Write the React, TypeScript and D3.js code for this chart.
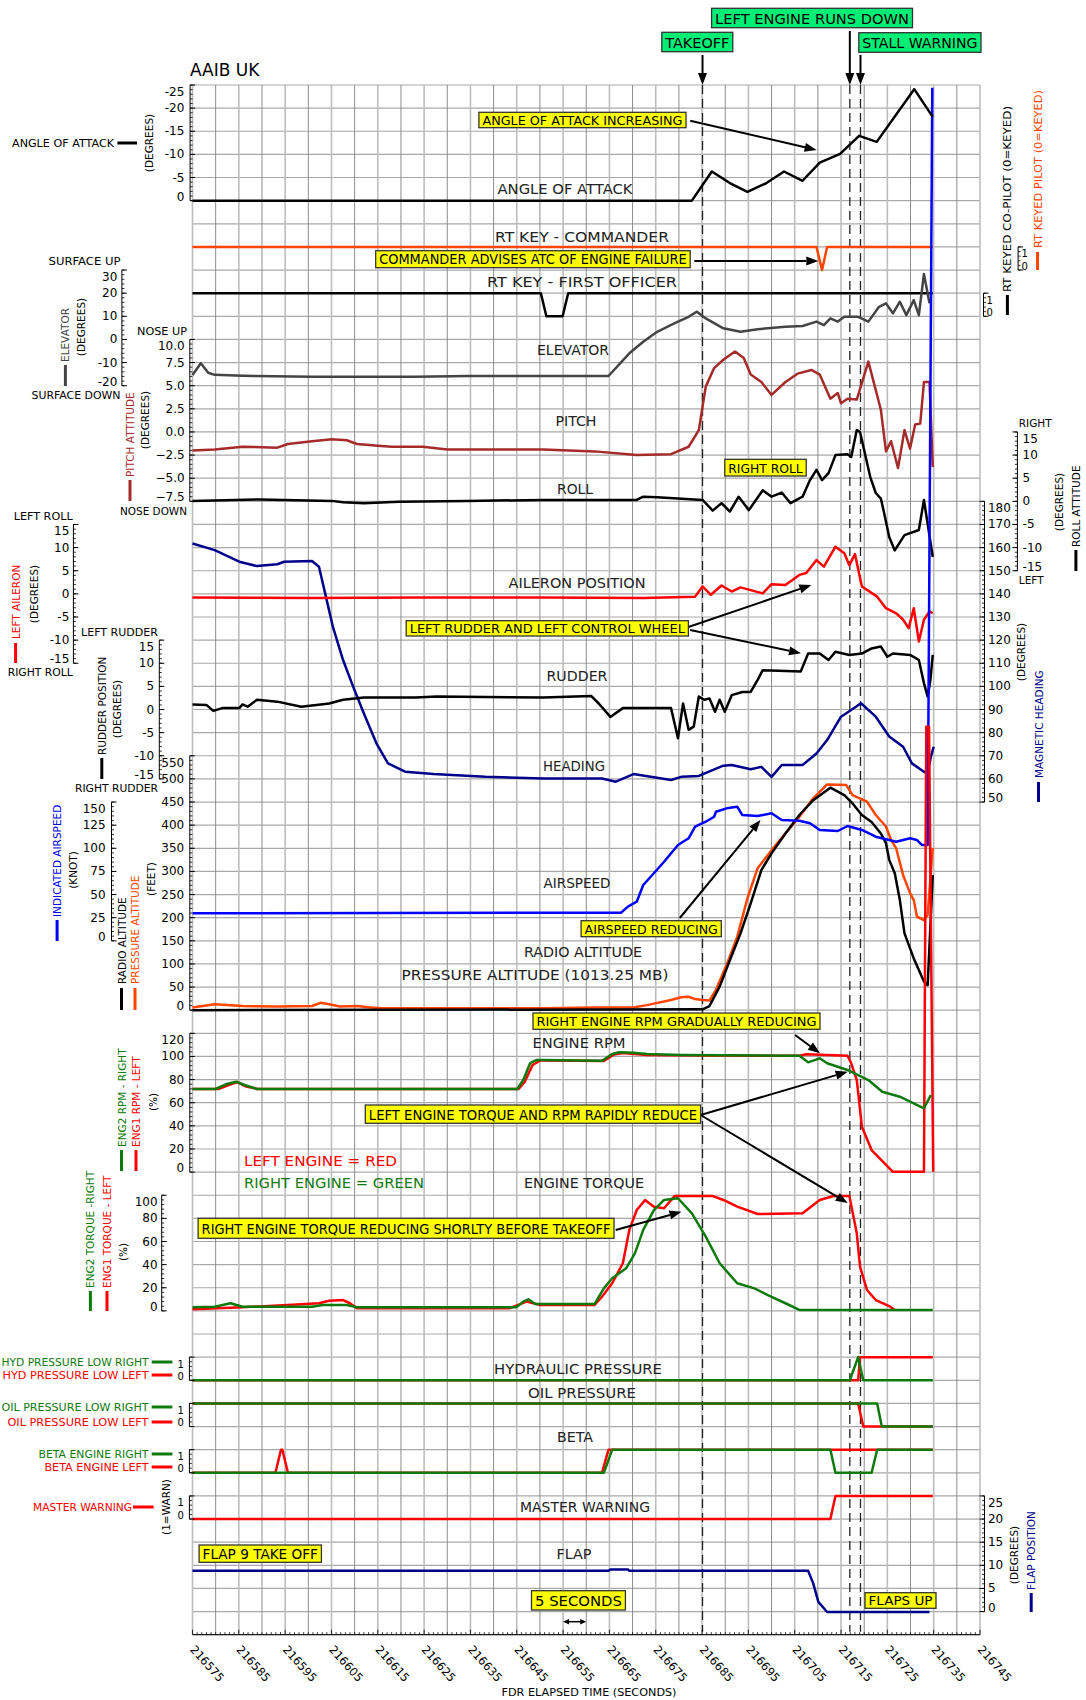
import * as d3 from "d3";

type Pt = [number, number];

// FDR elapsed time (s) tick labels
const timeTicks = [216575, 216585, 216595, 216605, 216615, 216625, 216635, 216645, 216655, 216665, 216675, 216685, 216695, 216705, 216715, 216725, 216735, 216745];

const eventTimes = { takeoff: 216685.1, leftEngineRunsDown: 216716.9, stallWarning: 216719.2 };
const fiveSeconds = [216655, 216660];

// axis tick labels
const aoaTicks = [-25, -20, -15, -10, -5, 0];
const elevatorTicks = [30, 20, 10, 0, -10, -20];
const pitchTicks = [10, 7.5, 5, 2.5, 0, -2.5, -5, -7.5];
const rollTicks = [15, 10, 5, 0, -5, -10, -15];
const headingTicks = [180, 170, 160, 150, 140, 130, 120, 110, 100, 90, 80, 70, 60, 50];
const aileronTicks = [15, 10, 5, 0, -5, -10, -15];
const rudderTicks = [15, 10, 5, 0, -5, -10, -15];
const airspeedTicks = [150, 125, 100, 75, 50, 25, 0];
const altitudeTicks = [550, 500, 450, 400, 350, 300, 250, 200, 150, 100, 50, 0];
const rpmTicks = [120, 100, 80, 60, 40, 20, 0];
const torqueTicks = [100, 80, 60, 40, 20, 0];
const discreteTicks = [1, 0];
const flapTicks = [25, 20, 15, 10, 5, 0];

// series: [time, value]
const aoa: Pt[] = [[216575, 0], [216682.8, 0], [216687.1, -6.3], [216691.0, -3.8], [216694.8, -1.9], [216698.9, -3.8], [216702.7, -6.3], [216706.7, -4.3], [216710.4, -8.2], [216714.8, -10.1], [216718.9, -14.0], [216722.7, -12.7], [216730.8, -24.1], [216734.8, -18.1]];

const rtKeyCommander: Pt[] = [[216575, 1], [216709.7, 1], [216710.9, 0], [216712.0, 1], [216734.8, 1]];
const rtKeyFirstOfficer: Pt[] = [[216575, 1], [216650.2, 1], [216651.4, 0], [216654.9, 0], [216656.1, 1], [216734.8, 1]];

const elevator: Pt[] = [[216575, -15.4], [216576.8, -10.3], [216578.4, -14.4], [216579.8, -15.3], [216585.8, -15.7], [216600.8, -16.1], [216623.2, -16.1], [216634.4, -15.8], [216650.6, -15.8], [216664.8, -15.8], [216669.3, -6.0], [216672.3, -1.0], [216675.3, 3.3], [216679.1, 7.0], [216682.1, 9.8], [216683.9, 12.0], [216685.8, 9.1], [216689.6, 4.8], [216693.3, 3.3], [216697.0, 4.4], [216703.0, 5.5], [216706.7, 5.8], [216709.7, 7.7], [216711.3, 6.2], [216712.7, 9.1], [216714.3, 7.7], [216715.7, 9.8], [216718.7, 9.8], [216720.9, 7.7], [216723.2, 14.1], [216724.7, 15.6], [216726.2, 11.3], [216727.7, 16.3], [216729.1, 10.5], [216730.7, 17.0], [216731.8, 10.5], [216732.9, 28.3], [216734.1, 15.6]];

const pitch: Pt[] = [[216575, -2.0], [216579.8, -1.9], [216585.8, -1.6], [216593.3, -1.7], [216595.6, -1.3], [216600.8, -1.0], [216605.1, -0.8], [216608.3, -0.9], [216610.5, -1.3], [216615.0, -1.5], [216618.0, -1.6], [216624.7, -1.6], [216630.0, -1.9], [216638.2, -1.9], [216650.7, -1.9], [216661.8, -2.1], [216670.9, -2.5], [216678.3, -2.4], [216682.1, -1.6], [216684.3, 0.2], [216685.8, 4.9], [216687.6, 6.9], [216689.6, 7.8], [216692.1, 8.7], [216694.0, 8.0], [216695.5, 6.2], [216697.8, 5.4], [216700.0, 4.0], [216703.0, 5.4], [216705.6, 6.3], [216708.6, 6.7], [216710.4, 6.2], [216712.7, 3.6], [216714.3, 4.2], [216715.0, 3.1], [216716.4, 3.6], [216718.4, 3.5], [216720.9, 7.6], [216723.6, 2.4], [216724.7, -2.1], [216725.8, -1.0], [216727.3, -3.9], [216728.7, 0.2], [216729.9, -1.8], [216731.0, 0.8], [216732.1, 0.9], [216732.9, 5.4], [216734.1, 5.4], [216734.8, -3.8]];

const roll: Pt[] = [[216575, 0.1], [216589.6, 0.4], [216605.1, 0.1], [216607.5, -0.2], [216612.0, -0.4], [216619.5, -0.1], [216634.4, 0.1], [216650.6, 0.3], [216670.9, 0.3], [216672.3, 1.0], [216675.3, 0.9], [216685.1, 0.3], [216687.3, -2.0], [216689.2, -0.4], [216691.0, -2.2], [216692.9, 1.0], [216695.1, -1.9], [216698.1, 2.4], [216700.0, 1.0], [216702.2, 1.9], [216704.1, -0.4], [216706.7, 1.0], [216708.3, 4.6], [216709.7, 6.8], [216710.9, 4.6], [216712.3, 6.1], [216713.8, 10.0], [216716.4, 10.2], [216717.2, 9.6], [216718.4, 15.4], [216719.1, 15.0], [216721.3, 5.3], [216722.5, 1.8], [216723.6, 0.6], [216724.3, -2.5], [216725.4, -7.7], [216726.6, -10.6], [216728.7, -7.3], [216731.8, -6.2], [216732.9, 0.3], [216734.8, -12.0]];

const heading: Pt[] = [[216575, 161.8], [216579.8, 158.9], [216585.1, 153.9], [216588.9, 152.0], [216593.3, 152.8], [216594.8, 153.9], [216600.8, 154.2], [216602.3, 151.7], [216603.8, 138.8], [216605.3, 125.8], [216607.5, 111.4], [216609.7, 99.8], [216612.0, 88.3], [216614.7, 75.4], [216617.2, 66.7], [216620.9, 63.1], [216627.0, 62.1], [216638.2, 60.9], [216650.7, 60.2], [216663.4, 60.2], [216666.4, 58.8], [216670.2, 62.1], [216678.3, 59.5], [216680.5, 60.9], [216684.3, 61.3], [216689.6, 65.7], [216691.4, 66.0], [216695.5, 64.2], [216697.8, 65.2], [216700.0, 60.9], [216702.2, 66.0], [216706.7, 66.0], [216709.7, 71.0], [216712.0, 76.8], [216715.0, 86.9], [216717.2, 89.8], [216719.3, 92.7], [216722.5, 86.9], [216725.4, 78.3], [216728.4, 73.9], [216730.3, 66.7], [216732.9, 63.1], [216733.7, 62.4], [216734.4, 69.6], [216735.0, 73.9]];

const aileron: Pt[] = [[216575, -0.8], [216600.8, -0.9], [216623.2, -0.8], [216650.6, -0.8], [216672.4, -0.9], [216683.5, -0.6], [216685.1, 1.6], [216686.9, -0.2], [216689.2, 1.8], [216691.4, 0.5], [216693.3, 1.4], [216698.1, 0.1], [216700.0, 2.1], [216703.0, 1.9], [216706.0, 4.1], [216707.5, 4.5], [216709.7, 7.3], [216711.3, 5.9], [216713.8, 10.2], [216715.7, 8.8], [216716.8, 6.2], [216718.0, 8.6], [216719.5, 1.6], [216722.8, -0.6], [216724.7, -3.1], [216726.9, -4.2], [216728.4, -5.6], [216729.6, -7.4], [216730.7, -3.1], [216731.8, -10.3], [216732.9, -5.6], [216734.1, -3.8], [216734.8, -4.2]];

const rudder: Pt[] = [[216575, 1.1], [216578.0, 1.0], [216579.5, -0.3], [216581.4, 0.3], [216585.1, 0.3], [216585.8, 1.1], [216586.9, 0.6], [216588.9, 2.1], [216593.3, 1.7], [216598.5, 0.6], [216604.5, 1.3], [216607.5, 2.1], [216612.0, 2.6], [216623.2, 2.6], [216627.7, 2.8], [216650.7, 2.6], [216661.1, 2.9], [216662.7, 1.3], [216665.2, -1.6], [216667.9, 0.3], [216678.3, 0.3], [216679.8, -6.2], [216680.9, 1.3], [216682.1, -4.4], [216683.2, -3.7], [216684.3, 2.8], [216685.5, 2.1], [216686.6, 2.4], [216687.8, -0.5], [216688.8, 2.1], [216689.9, -0.5], [216691.4, 3.1], [216693.7, 3.8], [216695.5, 3.8], [216697.0, 6.4], [216698.1, 8.5], [216701.5, 8.4], [216706.3, 8.2], [216707.9, 12.1], [216710.4, 12.1], [216712.3, 10.7], [216713.8, 12.5], [216716.8, 11.8], [216719.5, 12.1], [216721.6, 13.2], [216723.6, 13.6], [216725.0, 11.4], [216726.2, 12.1], [216729.9, 11.8], [216731.8, 10.7], [216732.9, 5.7], [216733.7, 2.8], [216734.3, 6.4], [216734.8, 11.8]];

const airspeed: Pt[] = [[216575, 29.7], [216667.5, 30.4], [216669.0, 36.9], [216670.9, 42.3], [216672.3, 60.3], [216674.6, 73.0], [216676.8, 85.5], [216679.8, 103.5], [216682.1, 110.8], [216683.5, 123.3], [216685.8, 128.7], [216687.6, 134.1], [216688.0, 139.5], [216690.3, 143.2], [216692.6, 144.9], [216693.7, 135.9], [216697.0, 134.9], [216700.0, 137.8], [216702.2, 130.6], [216706.0, 129.8], [216708.3, 127.0], [216710.4, 119.8], [216714.3, 118.7], [216716.4, 124.1], [216719.5, 119.8], [216722.5, 112.5], [216724.7, 109.7], [216726.9, 107.1], [216729.9, 110.8], [216731.4, 108.9], [216732.5, 103.5], [216733.7, 103.5], [216734.7, 922]];

const radioAltitude: Pt[] = [[216575, 0], [216685.1, 2], [216686.6, 9], [216688.8, 51], [216691.0, 108], [216693.3, 166], [216695.5, 231], [216697.8, 303], [216700.0, 339], [216703.0, 382], [216706.0, 422], [216709.0, 454], [216712.7, 481], [216715.7, 465], [216717.5, 447], [216719.5, 422], [216721.6, 407], [216723.6, 382], [216724.7, 361], [216725.4, 325], [216726.6, 296], [216727.7, 238], [216728.7, 166], [216730.7, 112], [216732.9, 62], [216733.7, 54], [216734.8, 292]];

const pressureAltitude: Pt[] = [[216575, 6], [216579.8, 13], [216585.8, 9], [216593.3, 8], [216600.8, 9], [216602.6, 16], [216604.5, 13], [216606.8, 8], [216610.5, 9], [216613.5, 6], [216615.8, 4], [216650.7, 4], [216661.8, 6], [216670.2, 6], [216673.1, 11], [216678.3, 22], [216680.5, 28], [216682.1, 29], [216683.5, 24], [216685.1, 22], [216686.6, 21], [216688.0, 44], [216690.3, 98], [216692.6, 159], [216694.8, 242], [216697.0, 307], [216700.0, 346], [216703.0, 382], [216706.0, 418], [216709.0, 458], [216712.0, 488], [216716.1, 487], [216717.5, 465], [216720.6, 451], [216722.5, 422], [216724.7, 397], [216725.8, 368], [216726.9, 350], [216728.4, 292], [216729.9, 253], [216730.7, 238], [216731.4, 202], [216732.9, 195], [216733.7, 206], [216734.8, 351]];

const rpmRight: Pt[] = [[216575, 71.9], [216580.0, 71.9], [216582.4, 76.2], [216584.4, 78.2], [216586.2, 75.3], [216588.9, 71.9], [216645.1, 71.9], [216646.4, 79.6], [216647.9, 94.3], [216649.2, 96.9], [216650.6, 96.9], [216663.4, 96.3], [216665.6, 102.1], [216667.1, 103.6], [216670.2, 103.2], [216673.1, 102.1], [216680.5, 101.3], [216706.0, 100.6], [216707.9, 94.9], [216710.4, 98.4], [216712.0, 94.1], [216716.4, 88.3], [216720.9, 79.6], [216723.9, 69.5], [216727.7, 65.2], [216732.9, 55.2], [216734.4, 66.7]];

const rpmLeft: Pt[] = [[216575, 71.9], [216580.7, 71.9], [216582.8, 75.3], [216584.7, 77.9], [216586.6, 74.0], [216589.1, 71.9], [216645.4, 71.9], [216646.7, 77.9], [216648.4, 92.6], [216650.1, 96.5], [216650.6, 96.5], [216663.8, 96.1], [216666.0, 101.7], [216667.9, 103.0], [216673.1, 101.3], [216685.9, 100.8], [216706.0, 100.6], [216707.5, 101.9], [216716.4, 100.6], [216717.2, 94.1], [216718.4, 79.6], [216719.5, 39.3], [216721.6, 19.1], [216726.2, 0.3], [216732.9, 0.3], [216733.4, 385], [216734.0, 385], [216734.9, 0.3]];

const torqueRight: Pt[] = [[216575, 3.1], [216579.8, 3.6], [216583.2, 6.6], [216585.8, 3.6], [216600.8, 3.6], [216603.1, 5.1], [216608.3, 5.1], [216610.5, 3.1], [216644.9, 3.1], [216646.4, 8.0], [216647.5, 10.0], [216649.0, 6.0], [216650.6, 6.0], [216661.8, 6.0], [216663.8, 19.5], [216665.6, 28.2], [216668.6, 36.8], [216670.5, 49.8], [216672.3, 70.0], [216674.6, 87.2], [216676.8, 95.9], [216679.8, 97.4], [216682.8, 84.4], [216685.8, 64.2], [216688.8, 41.2], [216692.6, 23.9], [216696.3, 19.5], [216699.2, 13.7], [216703.0, 6.6], [216706.0, 0.8], [216734.8, 0.8]];

const torqueLeft: Pt[] = [[216575, 1.4], [216585.8, 3.1], [216595.6, 5.1], [216602.3, 6.6], [216604.5, 8.8], [216607.5, 9.4], [216609.0, 6.6], [216610.5, 2.2], [216643.4, 2.2], [216647.1, 8.0], [216650.1, 5.1], [216661.8, 5.1], [216663.4, 12.3], [216665.6, 23.9], [216667.9, 41.2], [216669.3, 70.0], [216670.9, 87.2], [216672.7, 95.9], [216674.6, 90.1], [216676.8, 88.7], [216679.1, 99.4], [216687.2, 99.4], [216689.6, 95.9], [216692.6, 90.1], [216697.0, 83.8], [216706.7, 84.4], [216709.0, 91.6], [216710.4, 95.9], [216713.4, 99.4], [216716.8, 99.4], [216718.4, 67.1], [216719.1, 38.2], [216720.6, 18.1], [216722.5, 9.4], [216725.4, 4.2], [216726.6, 0.8]];

const hydLowRight: Pt[] = [[216575, 0], [216716.9, 0], [216718.7, 1], [216719.8, 0], [216734.8, 0]];
const hydLowLeft: Pt[] = [[216575, 0], [216718.7, 0], [216719.1, 1], [216734.8, 1]];
const oilLowRight: Pt[] = [[216575, 1], [216722.8, 1], [216723.8, 0], [216734.8, 0]];
const oilLowLeft: Pt[] = [[216575, 1], [216718.7, 1], [216719.8, 0], [216734.8, 0]];
const betaRight: Pt[] = [[216575, 0], [216663.8, 0], [216665.6, 1], [216712.7, 1], [216713.8, 0], [216721.6, 0], [216722.8, 1], [216734.8, 1]];
const betaLeft: Pt[] = [[216575, 0], [216592.9, 0], [216594.1, 1], [216594.4, 1], [216595.6, 0], [216663.4, 0], [216664.8, 1], [216734.8, 1]];
const masterWarning: Pt[] = [[216575, 0], [216712.7, 0], [216713.8, 1], [216734.8, 1]];

const flap: Pt[] = [[216575, 8.8], [216664.8, 8.8], [216665.2, 9.1], [216669.0, 9.1], [216669.3, 8.8], [216707.9, 8.8], [216709.0, 6.1], [216710.1, 2.1], [216712.0, -0.1], [216734.1, -0.1]];

const FONT = "DejaVu Sans, Verdana, sans-serif";
const RED = "#ff0000";
const GREEN = "#0e7a0e";
const ORANGE = "#ff4500";
const NAVY = "#00008b";
const BLUE = "#0000ff";
const BROWN = "#a52a2a";
const GRAY = "#444444";

function YAxis(props: any) {
  const { s, at, dir, labelX, anchor, ticks, fmt, minor, size } = props;
  const r = s.range();
  const top = Math.min(r[0], r[1]);
  const bot = Math.max(r[0], r[1]);
  const dom = s.domain();
  const lo = Math.min(dom[0], dom[1]);
  const hi = Math.max(dom[0], dom[1]);
  const minors = minor ? d3.range(lo, hi + minor / 2, minor) : [];
  const f = fmt || ((v: number) => String(v));
  return (
    <g>
      <line x1={at} x2={at} y1={top} y2={bot} stroke="#000" strokeWidth={1} />
      {minors.map((v: number, i: number) => (
        <line key={"m" + i} x1={at} x2={at + dir * 2.5} y1={s(v)} y2={s(v)} stroke="#000" strokeWidth={0.8} />
      ))}
      {ticks.map((v: number) => (
        <line key={"t" + v} x1={at} x2={at + dir * 5} y1={s(v)} y2={s(v)} stroke="#000" strokeWidth={1} />
      ))}
      {ticks.map((v: number) => {
        const y = Math.max(top + 7, Math.min(bot - 4, s(v)));
        return (
          <text key={"l" + v} x={labelX} y={y} textAnchor={anchor} dominantBaseline="central" fontSize={size || 12}>
            {f(v)}
          </text>
        );
      })}
    </g>
  );
}

function Arrow({ a }: { a: number[] }) {
  const [x1, y1, x2, y2] = a;
  const ang = Math.atan2(y2 - y1, x2 - x1);
  const L = 12;
  const w = 4.5;
  const bx = x2 - L * Math.cos(ang);
  const by = y2 - L * Math.sin(ang);
  const p1 = [bx - w * Math.sin(ang), by + w * Math.cos(ang)];
  const p2 = [bx + w * Math.sin(ang), by - w * Math.cos(ang)];
  return (
    <g>
      <line x1={x1} y1={y1} x2={bx} y2={by} stroke="#000" strokeWidth={2} />
      <polygon points={`${x2},${y2} ${p1[0]},${p1[1]} ${p2[0]},${p2[1]}`} fill="#000" />
    </g>
  );
}

function Box({ b, fill }: { b: any; fill: string }) {
  const w = b.x1 - b.x0;
  const h = b.y1 - b.y0;
  return (
    <g>
      <rect x={b.x0} y={b.y0} width={w} height={h} fill={fill} stroke="#333" strokeWidth={1.3} />
      <text x={(b.x0 + b.x1) / 2} y={(b.y0 + b.y1) / 2 + 0.5} textAnchor="middle" dominantBaseline="central"
        fontSize={Math.min(14, h * 0.78)} textLength={w - 7} lengthAdjust="spacingAndGlyphs">
        {b.t}
      </text>
    </g>
  );
}

export default function App() {
  const W = 1086;
  const H = 1700;
  const PL = 192.5;
  const PR = 980;
  const PT = 85;
  const ROWH = 23.13;
  const NROWS = 67;
  const PB = PT + ROWH * NROWS;

  const t0 = timeTicks[0];
  const t1 = timeTicks[timeTicks.length - 1];
  const x = d3.scaleLinear().domain([t0, t1]).range([PL, PR]);
  const rowY = (n: number) => PT + n * ROWH;
  const band = (v0: number, v1: number, r0: number, r1: number) =>
    d3.scaleLinear().domain([v0, v1]).range([rowY(r0), rowY(r1)]);

  const yAoa = band(-25, 0, 0, 5);
  const yCmd = band(1, 0, 7, 8);
  const yFo = band(1, 0, 9, 10);
  const yElev = band(30, -20, 8, 13);
  const yPitch = band(10, -7.5, 11, 18);
  const yRoll = band(15, -15, 15, 21);
  const yHdg = band(180, 50, 18, 31);
  const yAil = band(15, -15, 19, 25);
  const yRud = band(15, -15, 24, 30);
  const yIas = band(150, 0, 31, 37);
  const yAlt = band(550, 0, 29, 40);
  const yRpm = band(120, 0, 41, 47);
  const yTrq = band(100, 0, 48, 53);
  const yHyd = band(1, 0, 55, 56);
  const yOil = band(1, 0, 57, 58);
  const yBeta = band(1, 0, 59, 60);
  const yMw = band(1, 0, 61, 62);
  const yFlap = band(25, 0, 61, 66);

  const path = (data: Pt[], s: any) =>
    d3.line<Pt>().x((d) => x(d[0])).y((d) => s(d[1]))(data) || "";

  const gridTimes = d3.range(t0, t1 + 0.1, 5);
  const gridRows = d3.range(0, NROWS + 1);
  const minorTimes = d3.range(t0, t1 + 0.1, 1);

  const traces = [
    { d: rtKeyCommander, s: yCmd, c: ORANGE },
    { d: rtKeyFirstOfficer, s: yFo, c: "#000" },
    { d: elevator, s: yElev, c: GRAY },
    { d: pitch, s: yPitch, c: BROWN },
    { d: roll, s: yRoll, c: "#000" },
    { d: heading, s: yHdg, c: NAVY },
    { d: aileron, s: yAil, c: RED },
    { d: rudder, s: yRud, c: "#000" },
    { d: pressureAltitude, s: yAlt, c: ORANGE },
    { d: radioAltitude, s: yAlt, c: "#000" },
    { d: airspeed, s: yIas, c: BLUE },
    { d: rpmLeft, s: yRpm, c: RED },
    { d: rpmRight, s: yRpm, c: GREEN },
    { d: torqueLeft, s: yTrq, c: RED },
    { d: torqueRight, s: yTrq, c: GREEN },
    { d: hydLowLeft, s: yHyd, c: RED },
    { d: hydLowRight, s: yHyd, c: GREEN },
    { d: oilLowLeft, s: yOil, c: RED },
    { d: oilLowRight, s: yOil, c: GREEN },
    { d: betaLeft, s: yBeta, c: RED },
    { d: betaRight, s: yBeta, c: GREEN },
    { d: masterWarning, s: yMw, c: RED },
    { d: flap, s: yFlap, c: NAVY },
    { d: aoa, s: yAoa, c: "#000" },
  ];

  // in-plot trace names: text, centre x, centre y, width
  const names: [string, number, number, number][] = [
    ["ANGLE OF ATTACK", 565, 189, 135],
    ["RT KEY - COMMANDER", 582, 237, 174],
    ["RT KEY - FIRST OFFICER", 582, 282, 190],
    ["ELEVATOR", 573, 350, 72],
    ["PITCH", 576, 421, 41],
    ["ROLL", 575, 489, 36],
    ["AILERON POSITION", 577, 583, 137],
    ["RUDDER", 577, 676, 61],
    ["HEADING", 574, 766, 62],
    ["AIRSPEED", 577, 883, 67],
    ["RADIO ALTITUDE", 583, 952, 118],
    ["PRESSURE ALTITUDE (1013.25 MB)", 535, 975, 267],
    ["ENGINE RPM", 579, 1043, 93],
    ["ENGINE TORQUE", 584, 1183, 120],
    ["HYDRAULIC PRESSURE", 578, 1369, 168],
    ["OIL PRESSURE", 582, 1393, 108],
    ["BETA", 575, 1437, 36],
    ["MASTER WARNING", 585, 1507, 130],
    ["FLAP", 574, 1554, 35],
  ];

  // horizontal side labels: text, end x, y, colour, width
  const sideLabels: [string, number, number, string, number][] = [
    ["ANGLE OF ATTACK", 114, 143, "#000", 102],
    ["SURFACE UP", 120.5, 261, "#000", 72],
    ["SURFACE DOWN", 120.5, 395, "#000", 89],
    ["NOSE UP", 187, 331, "#000", 50],
    ["NOSE DOWN", 187, 511, "#000", 67],
    ["LEFT ROLL", 72.7, 516, "#000", 59],
    ["RIGHT ROLL", 72.7, 672, "#000", 65],
    ["LEFT RUDDER", 158, 632, "#000", 77],
    ["RIGHT RUDDER", 158, 788, "#000", 83],
    ["HYD PRESSURE LOW RIGHT", 148.5, 1362, GREEN, 147],
    ["HYD PRESSURE LOW LEFT", 148.5, 1375, RED, 146],
    ["OIL PRESSURE LOW  RIGHT", 148.5, 1407, GREEN, 147],
    ["OIL PRESSURE LOW LEFT", 148.5, 1422, RED, 141],
    ["BETA ENGINE RIGHT", 148.5, 1454, GREEN, 110],
    ["BETA ENGINE LEFT", 148.5, 1467, RED, 104],
    ["MASTER WARNING", 132, 1507, RED, 99],
  ];
  const sideLines: [number, number, number, string][] = [
    [117.4, 137, 143, "#000"],
    [151.7, 172.4, 1362, GREEN],
    [151.7, 172.4, 1375, RED],
    [151.7, 172.4, 1407, GREEN],
    [151.7, 172.4, 1422, RED],
    [151.7, 172.4, 1454, GREEN],
    [151.7, 172.4, 1467, RED],
    [133, 153.7, 1507, RED],
  ];

  // rotated labels: text, x, y, anchor, colour, legend line [y0,y1] or null, length
  const vLabels: [string, number, number, string, string, number[] | null, number | null][] = [
    ["(DEGREES)", 148.5, 143, "middle", "#000", null, null],
    ["ELEVATOR", 65.4, 362, "start", GRAY, [365, 386], null],
    ["(DEGREES)", 81, 327, "middle", "#000", null, null],
    ["PITCH ATTITUDE", 130, 477, "start", BROWN, [480, 501], null],
    ["(DEGREES)", 145.4, 420, "middle", "#000", null, null],
    ["(DEGREES)", 1059.3, 502, "middle", "#000", null, null],
    ["ROLL ATTITUDE", 1075.9, 547, "start", "#000", [550, 571], null],
    ["(DEGREES)", 1020.8, 652, "middle", "#000", null, null],
    ["MAGNETIC HEADING", 1038.5, 778, "start", NAVY, [782, 802], null],
    ["LEFT AILERON", 15.6, 639, "start", RED, [643, 663], null],
    ["(DEGREES)", 34.3, 594, "middle", "#000", null, null],
    ["RUDDER POSITION", 101.8, 755, "start", "#000", [758, 779], null],
    ["(DEGREES)", 117.4, 709, "middle", "#000", null, null],
    ["INDICATED AIRSPEED", 57.1, 917, "start", BLUE, [920, 941], null],
    ["(KNOT)", 72.7, 870, "middle", "#000", null, null],
    ["RADIO ALTITUDE", 121.5, 984, "start", "#000", [988, 1010], null],
    ["PRESSURE ALTITUDE", 135, 984, "start", ORANGE, [988, 1010], null],
    ["(FEET)", 150.6, 879, "middle", "#000", null, null],
    ["ENG2 RPM - RIGHT", 121.5, 1147, "start", GREEN, [1150, 1171], null],
    ["ENG1 RPM - LEFT", 136, 1147, "start", RED, [1150, 1171], null],
    ["(%)", 152.7, 1102, "middle", "#000", null, null],
    ["ENG2 TORQUE -RIGHT", 90.4, 1288, "start", GREEN, [1291, 1311], null],
    ["ENG1 TORQUE - LEFT", 107, 1288, "start", RED, [1291, 1311], null],
    ["(%)", 122.6, 1252, "middle", "#000", null, null],
    ["(1=WARN)", 166.2, 1507, "middle", "#000", null, null],
    ["(DEGREES)", 1013.7, 1555, "middle", "#000", null, null],
    ["FLAP POSITION", 1031.2, 1590, "start", NAVY, [1593, 1612], null],
    ["RT KEYED CO-PILOT (0=KEYED)", 1007.4, 292, "start", "#000", [295, 315], 186],
    ["RT KEYED PILOT (0=KEYED)", 1037.5, 248, "start", ORANGE, [252, 270], 158],
  ];

  const yellowBoxes = [
    { x0: 478.9, y0: 112.3, x1: 686, y1: 127.7, t: "ANGLE OF ATTACK INCREASING" },
    { x0: 375.7, y0: 250.7, x1: 690.2, y1: 267.7, t: "COMMANDER ADVISES ATC OF ENGINE FAILURE" },
    { x0: 724.8, y0: 459.3, x1: 806.2, y1: 476, t: "RIGHT ROLL" },
    { x0: 406.2, y0: 620.7, x1: 688.4, y1: 636, t: "LEFT RUDDER AND LEFT CONTROL WHEEL" },
    { x0: 581.1, y0: 920.7, x1: 721.3, y1: 936.7, t: "AIRSPEED REDUCING" },
    { x0: 533, y0: 1013, x1: 820, y1: 1029.3, t: "RIGHT ENGINE RPM GRADUALLY REDUCING" },
    { x0: 365.3, y0: 1105, x1: 700.6, y1: 1123.3, t: "LEFT ENGINE TORQUE AND RPM RAPIDLY REDUCE" },
    { x0: 198.1, y0: 1218.3, x1: 614, y1: 1238.3, t: "RIGHT ENGINE TORQUE REDUCING SHORLTY BEFORE TAKEOFF" },
    { x0: 199.1, y0: 1545, x1: 321.4, y1: 1562.3, t: "FLAP 9 TAKE OFF" },
    { x0: 531.5, y0: 1590.7, x1: 625.4, y1: 1610, t: "5 SECONDS" },
    { x0: 865, y0: 1592.7, x1: 936, y1: 1608.3, t: "FLAPS UP" },
  ];
  const greenBoxes = [
    { x0: 661.8, y0: 32.3, x1: 732.8, y1: 51.7, t: "TAKEOFF" },
    { x0: 711.6, y0: 8.3, x1: 912.5, y1: 27.7, t: "LEFT ENGINE RUNS DOWN" },
    { x0: 858.8, y0: 32.7, x1: 981, y1: 52.3, t: "STALL WARNING" },
  ];

  const xt = x(eventTimes.takeoff);
  const xl = x(eventTimes.leftEngineRunsDown);
  const xs = x(eventTimes.stallWarning);
  const arrows = [
    [xt, 55, xt, PT],
    [xl, 31, xl, PT],
    [xs, 55, xs, PT],
    [690.2, 120.7, 816.6, 150],
    [694.3, 261, 818.3, 261],
    [688.4, 627, 811.4, 585],
    [690.2, 630, 801, 653.3],
    [679.8, 918, 760.5, 820],
    [795.1, 1035, 820, 1053.3],
    [700.6, 1115, 847.7, 1071.7],
    [700.6, 1115, 847.7, 1203],
    [615.7, 1230, 681.5, 1211.7],
  ];

  const f1 = d3.format(".1f");
  const secA = x(fiveSeconds[0]);
  const secB = x(fiveSeconds[1]);

  return (
    <svg width={W} height={H} style={{ position: "absolute", left: 0, top: 0, background: "#fff" }}
      fontFamily={FONT}>
      <rect width={W} height={H} fill="#fff" />

      {/* grid */}
      {gridRows.map((n) => (
        <line key={"h" + n} x1={PL} x2={PR} y1={rowY(n)} y2={rowY(n)} stroke="#a9a9a9" strokeWidth={1.2} />
      ))}
      {gridTimes.map((t, i) => (
        <line key={"v" + t} x1={x(t)} x2={x(t)} y1={PT} y2={PB}
          stroke={i % 2 === 0 ? "#bdbdbd" : "#8c8c8c"} strokeWidth={i % 2 === 0 ? 1.6 : 1} />
      ))}

      {/* event lines */}
      {[xt, xl, xs].map((ex, i) => (
        <line key={"ev" + i} x1={ex} x2={ex} y1={PT} y2={PB - 3} stroke="#222" strokeWidth={1.3} strokeDasharray="9 5" />
      ))}

      {/* traces */}
      {traces.map((tr, i) => (
        <path key={"tr" + i} d={path(tr.d, tr.s)} fill="none" stroke={tr.c} strokeWidth={2.5} strokeLinejoin="round" />
      ))}

      {/* axes */}
      <YAxis s={yAoa} at={190.1} dir={1} labelX={184.4} anchor="end" ticks={aoaTicks} minor={1} />
      <YAxis s={yElev} at={121.9} dir={1} labelX={117.4} anchor="end" ticks={elevatorTicks} minor={2} />
      <YAxis s={yPitch} at={189.8} dir={1} labelX={184.6} anchor="end" ticks={pitchTicks} minor={0.5} fmt={f1} />
      <YAxis s={yRoll} at={1017.4} dir={-1} labelX={1022.6} anchor="start" ticks={rollTicks} minor={1} />
      <YAxis s={yHdg} at={984.5} dir={-1} labelX={987.9} anchor="start" ticks={headingTicks} minor={2} />
      <YAxis s={yAil} at={73.4} dir={1} labelX={69.3} anchor="end" ticks={aileronTicks} minor={1} />
      <YAxis s={yRud} at={159.3} dir={1} labelX={154.1} anchor="end" ticks={rudderTicks} minor={1} />
      <YAxis s={yIas} at={111.5} dir={1} labelX={105.6} anchor="end" ticks={airspeedTicks} minor={5} />
      <YAxis s={yAlt} at={189.8} dir={1} labelX={184.2} anchor="end" ticks={altitudeTicks} minor={10} />
      <YAxis s={yRpm} at={189.8} dir={1} labelX={184.2} anchor="end" ticks={rpmTicks} minor={4} />
      <YAxis s={yTrq} at={161.7} dir={1} labelX={157.6} anchor="end" ticks={torqueTicks} minor={4} />
      <YAxis s={yFlap} at={984.5} dir={-1} labelX={987.9} anchor="start" ticks={flapTicks} minor={1} />
      <YAxis s={yCmd} at={1018.1} dir={1} labelX={1021.4} anchor="start" ticks={discreteTicks} minor={0.2} size={10} />
      <YAxis s={yFo} at={983.5} dir={1} labelX={986.6} anchor="start" ticks={discreteTicks} minor={0.2} size={10} />
      {[yHyd, yOil, yBeta, yMw].map((s, i) => (
        <YAxis key={"bin" + i} s={s} at={189.4} dir={1} labelX={183.9} anchor="end" ticks={discreteTicks} minor={0.2} size={10} />
      ))}

      {/* x axis */}
      <line x1={PL} x2={PR} y1={PB} y2={PB} stroke="#000" strokeWidth={1} />
      {minorTimes.map((t) => (
        <line key={"xm" + t} x1={x(t)} x2={x(t)} y1={PB} y2={PB - ((t - t0) % 10 === 0 ? 5 : 2.5)} stroke="#000" strokeWidth={0.8} />
      ))}
      {timeTicks.map((t) => (
        <text key={"xl" + t} transform={`translate(${x(t) - 3},1650) rotate(48)`} fontSize={11.5}>
          {t}
        </text>
      ))}
      <text x={589} y={1696} textAnchor="middle" fontSize={11} textLength={175} lengthAdjust="spacingAndGlyphs">
        FDR ELAPSED TIME (SECONDS)
      </text>

      <text x={190} y={76} fontSize={17}>AAIB UK</text>

      {/* trace names in plot */}
      {names.map(([t, cx, cy, w]) => (
        <text key={"n" + t} x={cx} y={cy} textAnchor="middle" dominantBaseline="central" fontSize={14.5}
          fill="#222" textLength={w} lengthAdjust="spacingAndGlyphs">
          {t}
        </text>
      ))}

      {/* side labels */}
      {sideLabels.map(([t, ex, cy, c, w]) => (
        <text key={"s" + t + cy} x={ex} y={cy} textAnchor="end" dominantBaseline="central" fontSize={10.5}
          fill={c} textLength={w} lengthAdjust="spacingAndGlyphs">
          {t}
        </text>
      ))}
      {sideLines.map(([a, b, y, c], i) => (
        <line key={"sl" + i} x1={a} x2={b} y1={y} y2={y} stroke={c} strokeWidth={3} />
      ))}
      <text x={1018.8} y={423} dominantBaseline="central" fontSize={10.5}>RIGHT</text>
      <text x={1018.8} y={580} dominantBaseline="central" fontSize={10.5}>LEFT</text>

      {vLabels.map(([t, vx, vy, anc, c, leg, len], i) => (
        <g key={"vl" + i}>
          <text transform={`translate(${vx},${vy}) rotate(-90)`} textAnchor={anc} dominantBaseline="central"
            fontSize={10.5} fill={c} textLength={len || undefined} lengthAdjust={len ? "spacingAndGlyphs" : undefined}>
            {t}
          </text>
          {leg && <line x1={vx} x2={vx} y1={leg[0]} y2={leg[1]} stroke={c} strokeWidth={3} />}
        </g>
      ))}

      <text x={244} y={1161} dominantBaseline="central" fontSize={14} fill={RED} textLength={153} lengthAdjust="spacingAndGlyphs">
        LEFT ENGINE = RED
      </text>
      <text x={244} y={1183} dominantBaseline="central" fontSize={14} fill={GREEN} textLength={180} lengthAdjust="spacingAndGlyphs">
        RIGHT ENGINE = GREEN
      </text>

      {/* annotations */}
      {arrows.map((a, i) => (
        <Arrow key={"ar" + i} a={a} />
      ))}
      {yellowBoxes.map((b) => (
        <Box key={b.t} b={b} fill="#ffff00" />
      ))}
      {greenBoxes.map((b) => (
        <Box key={b.t} b={b} fill="#00ee76" />
      ))}

      {/* 5 second marker */}
      <line x1={secA + 5} x2={secB - 5} y1={1621.7} y2={1621.7} stroke="#000" strokeWidth={1.5} />
      <polygon points={`${secA},1621.7 ${secA + 6},1619 ${secA + 6},1624.4`} fill="#000" />
      <polygon points={`${secB},1621.7 ${secB - 6},1619 ${secB - 6},1624.4`} fill="#000" />
    </svg>
  );
}
